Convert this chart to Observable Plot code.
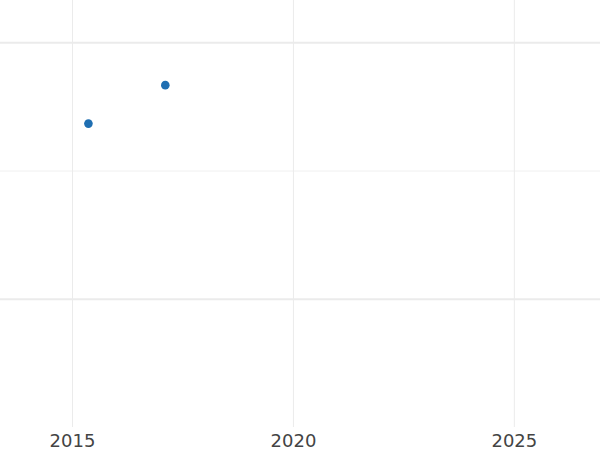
<!DOCTYPE html>
<html>
<head>
<meta charset="utf-8">
<script src="https://cdn.jsdelivr.net/npm/d3@7"></script>
<script src="https://cdn.jsdelivr.net/npm/@observablehq/plot@0.6"></script>
<style>
  html, body { margin: 0; padding: 0; background: #fff; }
</style>
</head>
<body>
<div id="chart"></div>
<script>
const years = [2015.36, 2017.1];
const values = [1.37, 1.67];
const xTicks = [2015, 2020, 2025];
const yMajor = [0, 2];
const yMinor = [1];

const data = years.map((x, i) => ({x, y: values[i]}));

const chart = Plot.plot({
  width: 600,
  height: 450,
  marginLeft: 0,
  marginRight: 0,
  marginTop: 0,
  marginBottom: 23,
  style: {fontFamily: "DejaVu Sans", background: "#fff"},
  x: {domain: [2013.37, 2026.95], label: null},
  y: {domain: [-1, 2.33], axis: null},
  marks: [
    Plot.ruleY(yMinor, {stroke: "#f0f0f0", strokeWidth: 1}),
    Plot.ruleY(yMajor, {stroke: "#ebebeb", strokeWidth: 2}),
    Plot.ruleX(xTicks, {y1: -1, y2: 2.33, stroke: "#ebebeb", strokeWidth: 1}),
    Plot.axisX(xTicks, {tickSize: 0, tickPadding: 7, tickFormat: "d", fontSize: 18, fill: "#444", label: null}),
    Plot.dot(data, {x: "x", y: "y", r: 4.3, fill: "#1f6fb2", stroke: "none"})
  ]
});
document.getElementById("chart").appendChild(chart);
</script>
</body>
</html>
